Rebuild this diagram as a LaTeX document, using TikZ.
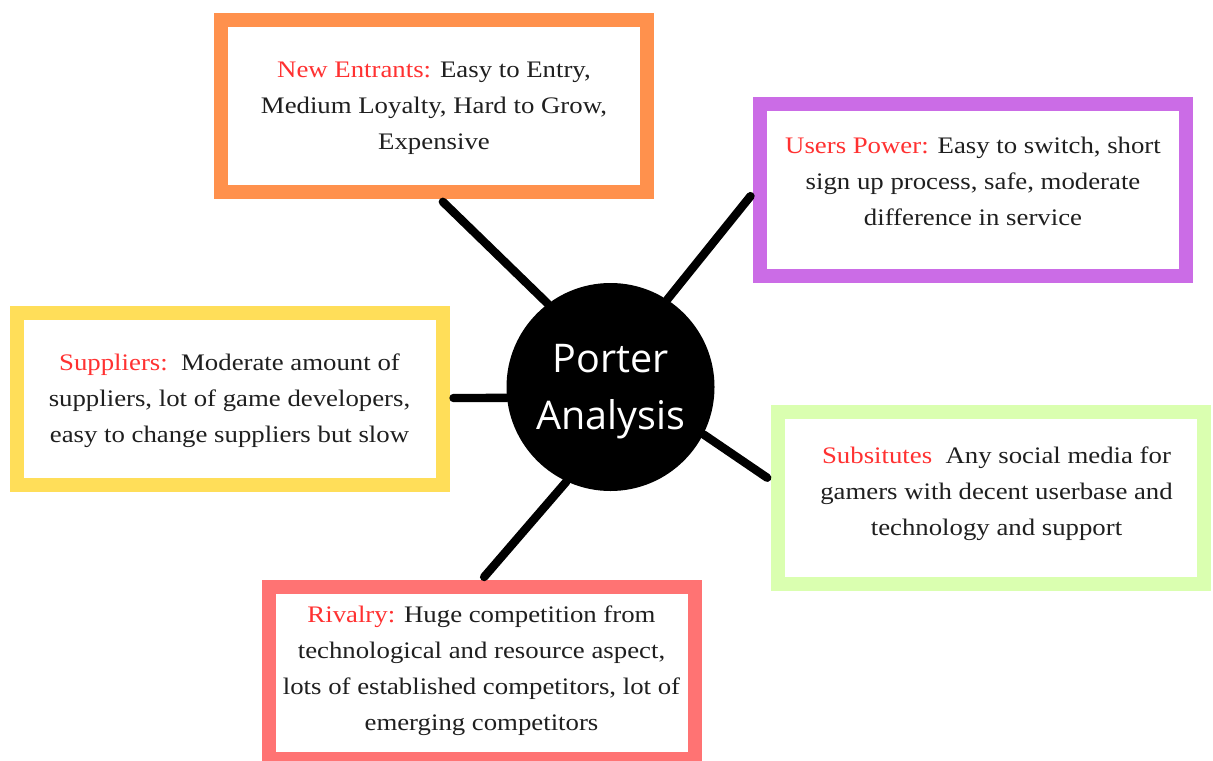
\documentclass[tikz,border=0pt]{standalone}
\usepackage{fontspec}
\setmainfont{Liberation Serif}[FakeStretch=1.13]
\newfontfamily\porterfont{Open Sans}
\definecolor{orangebox}{HTML}{FF914D}
\definecolor{purplebox}{HTML}{CB6CE6}
\definecolor{yellowbox}{HTML}{FFDE59}
\definecolor{greenbox}{HTML}{DAFFB0}
\definecolor{redbox}{HTML}{FF7373}
\definecolor{headred}{HTML}{FF3131}
\newcommand{\forcehead}[1]{\textcolor{headred}{#1}}
\tikzset{
  force/.style={rectangle, draw=#1, line width=7pt, fill=white,
    minimum width=213pt, minimum height=86pt},
  forcetext/.style={align=center, inner sep=0pt, text depth=0pt, text=black!88,
    font=\fontsize{11.85}{18}\selectfont},
  hub/.style={circle, fill=black, minimum size=104pt, inner sep=0pt,
    align=center, text=white, text depth=0pt,
    font=\porterfont\fontsize{19.75}{28.5}\selectfont},
  spoke/.style={line width=4.2pt, line cap=round, shorten <=2pt}
}
\begin{document}
\begin{tikzpicture}[x=0.5pt,y=-0.5pt]
   \useasboundingbox (0,0) rectangle (1213,760);
   \clip (0,0) rectangle (1213,760);
   \node[hub] (porter) at (610.5,387) {Porter\\Analysis};

   % the five forces
   \node[force=orangebox] (entrants) at (434,106) {};
   \node[force=purplebox] (users) at (973,190) {};
   \node[force=yellowbox] (suppliers) at (229.5,399) {};
   \node[force=greenbox] (subst) at (990.5,497.5) {};
   \node[force=redbox] (rivalry) at (481.5,673) {};

   \node[forcetext] (entrants text) at (434,105.8) {\forcehead{New Entrants:} Easy to Entry,\\Medium Loyalty, Hard to Grow,\\Expensive};
   \node[forcetext] (users text) at (973,181.5) {\forcehead{Users Power:} Easy to switch, short\\sign up process, safe, moderate\\difference in service};
   \node[forcetext] (suppliers text) at (229.5,397.9) {\forcehead{Suppliers:}\ \ Moderate amount of\\suppliers, lot of game developers,\\easy to change suppliers but slow};
   \node[forcetext] (subst text) at (996.5,490.9) {\forcehead{Subsitutes}\ \ Any social media for\\gamers with decent userbase and\\technology and support};
   \node[forcetext] (rivalry text) at (481.5,668.4) {\forcehead{Rivalry:} Huge competition from\\technological and resource aspect,\\lots of established competitors, lot of\\emerging competitors};

   \draw[spoke] ([xshift=3pt]entrants.south) -- (porter.127);
   \draw[spoke] ([yshift=-1.5pt]users.west) -- (porter.57);
   \draw[spoke] ([yshift=0.5pt]suppliers.east) -- (porter.186);
   \draw[spoke] ([yshift=8.75pt]subst.west) -- (porter.333.6);
   \draw[spoke] (rivalry.north) -- (porter.245);
\end{tikzpicture}
\end{document}
